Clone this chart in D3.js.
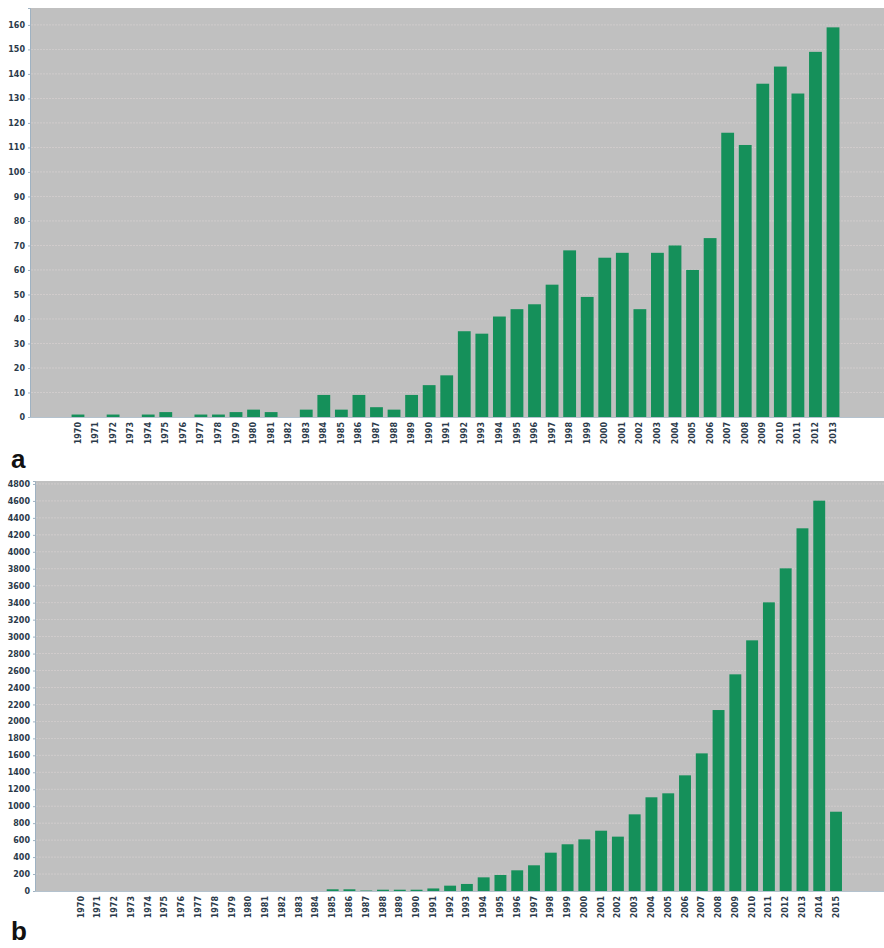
<!DOCTYPE html>
<html>
<head>
<meta charset="utf-8">
<script src="https://cdn.jsdelivr.net/npm/d3@7"></script>
<style>
  body { margin: 0; background: #fff; }
  .tick text { font-family: "DejaVu Sans", sans-serif; font-weight: bold; font-size: 8px; fill: #2b3a4a; }
  .panel { font-family: "Liberation Sans", Arial, sans-serif; font-weight: bold; font-size: 26px; fill: #111; }
</style>
</head>
<body>
<svg id="chart" width="884" height="948"></svg>
<script>
// panel a: yearly counts 1970-2013
var yearsA = d3.range(1970, 2014).map(String);
var valuesA = [1, 0, 1, 0, 1, 2, 0, 1, 1, 2, 3, 2, 0, 3, 9, 3, 9, 4, 3, 9,
    13, 17, 35, 34, 41, 44, 46, 54, 68, 49, 65, 67, 44, 67, 70, 60, 73, 116, 111, 136,
    143, 132, 149, 159];
var ticksA = d3.range(0, 161, 10);

// panel b: yearly counts 1970-2015
var yearsB = d3.range(1970, 2016).map(String);
var valuesB = [0, 0, 0, 0, 0, 0, 0, 0, 0, 0, 0, 0, 0, 0, 0, 20, 20, 5, 15, 15,
    15, 30, 63, 83, 161, 189, 244, 303, 452, 551, 609, 711, 641, 904, 1105, 1152, 1364, 1623, 2134, 2555,
    2956, 3404, 3805, 4277, 4603, 935];
var ticksB = d3.range(0, 4801, 200);

var svg = d3.select("#chart");

function drawPanel(cfg) {
    var g = svg.append("g");

    // plot background
    g.append("rect")
        .attr("x", cfg.left).attr("y", cfg.top)
        .attr("width", cfg.right - cfg.left).attr("height", cfg.bottom - cfg.top)
        .attr("fill", "#c0c0c0");

    var x = d3.scaleBand()
        .domain(cfg.years)
        .range(cfg.xRange)
        .paddingInner(cfg.pad)
        .paddingOuter(cfg.pad / 2);

    var y = d3.scaleLinear()
        .domain([0, cfg.yMax])
        .range([cfg.bottom, cfg.top]);

    // gridlines
    g.selectAll(".grid")
        .data(cfg.ticks.filter(d => d > 0))
        .enter().append("line")
        .attr("x1", cfg.left + 1).attr("x2", cfg.right)
        .attr("y1", d => y(d)).attr("y2", d => y(d))
        .attr("stroke", "#e2dada")
        .attr("stroke-width", 0.7)
        .attr("stroke-dasharray", "2,1")
        .attr("opacity", 0.7);

    g.selectAll(".bar")
        .data(cfg.values)
        .enter().append("rect")
        .attr("x", (d, i) => x(cfg.years[i]))
        .attr("y", d => y(d))
        .attr("width", x.bandwidth())
        .attr("height", d => cfg.bottom - y(d))
        .attr("fill", "#15905a");

    var yAxis = g.append("g")
        .attr("transform", `translate(${cfg.left},0)`)
        .call(d3.axisLeft(y).tickValues(cfg.ticks).tickFormat(d3.format("d")).tickSize(2).tickPadding(3));
    yAxis.select(".domain").attr("stroke", "#9fb2c2");
    yAxis.selectAll(".tick line").attr("stroke", "#9fb2c2");

    var xAxis = g.append("g")
        .attr("transform", `translate(0,${cfg.bottom})`)
        .call(d3.axisBottom(x).tickSize(0).tickPadding(0));
    xAxis.select(".domain")
        .attr("d", `M${cfg.left},0.5H${cfg.right}`)
        .attr("stroke", "#b4c2ce");
    xAxis.selectAll(".tick text")
        .attr("transform", "rotate(-90)")
        .attr("text-anchor", "end")
        .attr("x", -5)
        .attr("y", 0)
        .attr("dy", "0.32em");

    svg.append("text")
        .attr("class", "panel")
        .attr("x", 11).attr("y", cfg.labelY)
        .text(cfg.label);
}

drawPanel({
    years: yearsA, values: valuesA, ticks: ticksA,
    left: 30, right: 884, top: 8, bottom: 417,
    yMax: 166.9, xRange: [69.2, 841.8], pad: 0.27,
    label: "a", labelY: 468
});

drawPanel({
    years: yearsB, values: valuesB, ticks: ticksB,
    left: 35, right: 884, top: 481, bottom: 891,
    yMax: 4835, xRange: [72.6, 844.4], pad: 0.29,
    label: "b", labelY: 940
});
</script>
</body>
</html>
